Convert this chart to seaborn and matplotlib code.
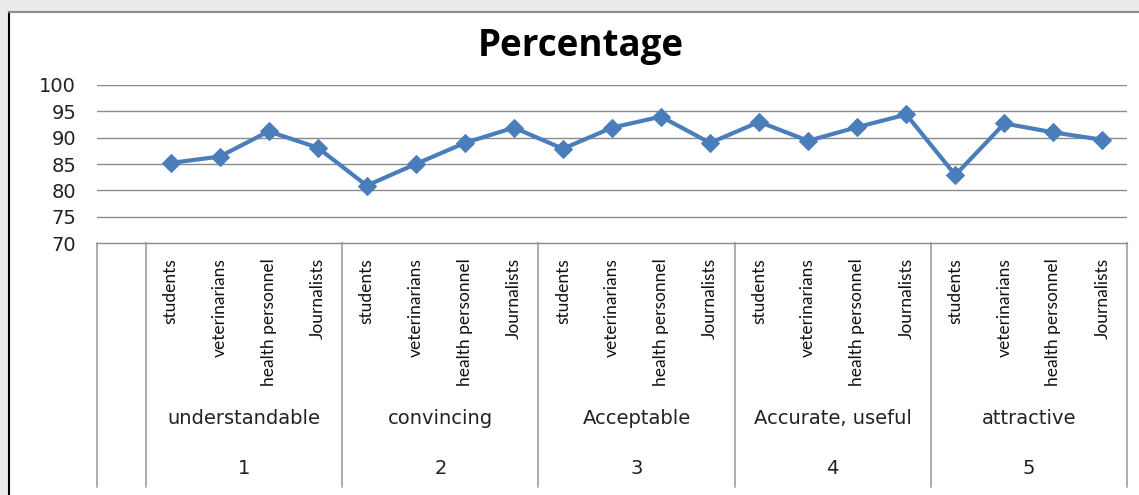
import numpy as np
import pandas as pd
import matplotlib.pyplot as plt
import matplotlib.patches as mpatches
from matplotlib.lines import Line2D
import seaborn as sns

# data
groups = ["understandable", "convincing", "Acceptable", "Accurate, useful", "attractive"]
group_nums = ["1", "2", "3", "4", "5"]
respondents = ["students", "veterinarians", "health personnel", "Journalists"]
understandable = [85.2, 86.4, 91.2, 88.1]
convincing = [80.9, 85.0, 89.0, 91.9]
acceptable = [87.9, 91.9, 94.0, 89.0]
accurate = [93.0, 89.4, 92.0, 94.4]
attractive = [82.9, 92.7, 91.0, 89.6]
y_ticks = [70, 75, 80, 85, 90, 95, 100]

values = understandable + convincing + acceptable + accurate + attractive
# first slot on the category axis is left empty, like the original
pos = np.arange(1, len(values) + 1)
df = pd.DataFrame({"pos": pos, "pct": values,
                   "who": respondents * len(groups)})

sns.set_theme(style="white")
narrow = ["Lato", "DejaVu Sans"]

W, H = 1139, 495
fig = plt.figure(figsize=(W / 100, H / 100), dpi=100)
fig.patch.set_facecolor("#ebebeb")

# white chart area with its border
fig.patches.append(mpatches.Rectangle((9 / W, 0), 1, 1 - 12 / H, transform=fig.transFigure,
                                      facecolor="white", edgecolor="none", zorder=-2))
fig.lines.append(Line2D([8.5 / W, 8.5 / W], [0, 1 - 11.5 / H], transform=fig.transFigure,
                        color="black", lw=1.5, zorder=-1))
fig.lines.append(Line2D([8.5 / W, 1], [1 - 11.5 / H, 1 - 11.5 / H], transform=fig.transFigure,
                        color="#8c8c8c", lw=1.5, zorder=-1))

ax = fig.add_axes([97 / W, 1 - 243 / H, (1127 - 97) / W, (243 - 85) / H])
ax.set_facecolor("none")
ax.set_zorder(2)

sns.lineplot(data=df, x="pos", y="pct", ax=ax, color="#4a7ebb", lw=3,
             marker="D", markersize=9, markeredgecolor="#4a7ebb", zorder=3)

ax.set_xlim(-0.5, len(values) + 0.5)
ax.set_ylim(70, 100)
ax.set_yticks(y_ticks)
ax.set_yticklabels([str(t) for t in y_ticks], fontsize=14, color="#222222")
ax.tick_params(axis="y", length=0, pad=15)
for t in y_ticks[1:]:
    ax.axhline(t, color="#8a8a8a", lw=1, zorder=1)

for s in ["top", "right", "left"]:
    ax.spines[s].set_visible(False)
ax.spines["bottom"].set_color("#8a8a8a")
ax.spines["bottom"].set_linewidth(1)

ax.set_xticks(pos)
ax.set_xticklabels(df["who"], rotation=90, fontsize=12.5, family=narrow, color="#111111")
ax.tick_params(axis="x", length=0, pad=11)
ax.set_xlabel("")
ax.set_ylabel("")

# category table below the axis
trans = ax.get_xaxis_transform()
y_bot = -(487 - 243) / (243 - 85)
bounds = [-0.5] + [0.5 + 4 * i for i in range(len(groups) + 1)]
for b in bounds:
    ax.add_line(Line2D([b, b], [0, y_bot], transform=trans, color="#a6a6a6",
                       lw=1.3, clip_on=False))

y_grp = -(418 - 243) / (243 - 85)
y_num = -(468 - 243) / (243 - 85)
for i, (g, n) in enumerate(zip(groups, group_nums)):
    cx = 2.5 + 4 * i
    ax.text(cx, y_grp, g, transform=trans, ha="center", va="center",
            fontsize=14, color="#222222")
    ax.text(cx, y_num, n, transform=trans, ha="center", va="center",
            fontsize=14, color="#222222")

if ax.get_legend() is not None:
    ax.get_legend().remove()

fig.text(581 / W, 1 - 46 / H, "Percentage", ha="center", va="center",
         fontsize=26.5, fontweight="bold", family=["Open Sans", "DejaVu Sans"], color="black")

fig.savefig("out.png", dpi=100, facecolor=fig.get_facecolor())
